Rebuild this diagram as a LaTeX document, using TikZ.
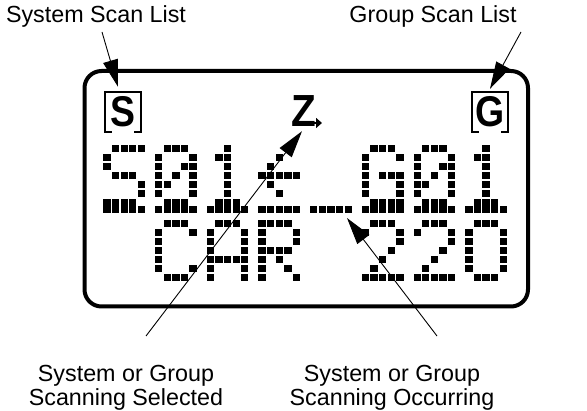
\documentclass[tikz,border=0pt]{standalone}
\usepackage{fontspec}
\setmainfont{Liberation Sans}
\usetikzlibrary{arrows.meta}

% dot patterns of the display, one list of lit columns per row
\def\glyphS{{2,3,4,5},{1},{1},{2,3,4},{5},{5},{1,2,3,4}}
\def\glyphZero{{2,3,4},{1,5},{1,4,5},{1,3,5},{1,2,5},{1,5},{2,3,4}}
\def\glyphOne{{3},{2,3},{3},{3},{3},{3},{2,3,4}}
\def\glyphLeft{{0},{3},{2},{1,2,3,4,5},{2},{3},{0}}
\def\glyphG{{2,3,4},{1,5},{1},{1,3,4,5},{1,5},{1,5},{2,3,4,5}}
\def\glyphC{{2,3,4},{1,5},{1},{1},{1},{1,5},{2,3,4}}
\def\glyphA{{2,3,4},{1,5},{1,5},{1,5},{1,2,3,4,5},{1,5},{1,5}}
\def\glyphR{{1,2,3,4},{1,5},{1,5},{1,2,3,4},{1,3},{1,4},{1,5}}
\def\glyphTwo{{2,3,4},{1,5},{5},{4},{3},{2},{1,2,3,4,5}}
\def\glyphO{{2,3,4},{1,5},{1,5},{1,5},{1,5},{1,5},{2,3,4}}

\newcommand{\lcdglyph}[3]{%
  \foreach \cols [count=\rw] in #3 {
    \foreach \cl in \cols {
      \ifnum\cl>0
        \fill[lcddot] ({#1+(\cl-1)*8.62},{#2+(\rw-1)*9}) rectangle ++(7.3,7.2);
      \fi
    }
  }%
}

\tikzset{
  lcddot/.style={fill=black},
  lcdframe/.style={draw, line width=4pt, rounded corners=17pt},
  leader/.style={line width=0.9pt, -{Triangle[length=27pt,width=15pt]}},
  lbltext/.style={font=\fontsize{23.3}{24}\selectfont, inner sep=0pt, align=center},
  indbox/.style={inner sep=0pt, minimum width=36pt, minimum height=40pt,
    font=\fontsize{43}{43}\bfseries\selectfont},
  indline/.style={line width=1.6pt},
}

\begin{document}
\begin{tikzpicture}[x=1pt,y=-1pt]
  \useasboundingbox (0,0) rectangle (587,411);

  % Draw display frame
  \node[lcdframe, minimum width=443.5pt, minimum height=235.5pt] (lcd) at (306.25,188.75) {};

  % Draw scan list indicators
  \node[indbox] (sbox) at (123,112) {\scalebox{0.87}[1]{S}};
  \node[indbox] (gbox) at (490,112) {\scalebox{0.87}[1]{G}};
  \draw[indline] ([xshift=7pt]sbox.south west) -- (sbox.south west) -- (sbox.north west)
    -- (sbox.north east) -- (sbox.south east) -- ([xshift=-7pt]sbox.south east);
  \draw[indline] ([xshift=7pt]gbox.south west) -- (gbox.south west) -- (gbox.north west)
    -- (gbox.north east) -- (gbox.south east) -- ([xshift=-7pt]gbox.south east);
  \node[inner sep=0pt, font=\fontsize{45}{45}\bfseries\selectfont] (zind) at (304,111.5) {\scalebox{0.9}[1]{Z}};
  \draw[line width=2.6pt, -{Triangle[length=6pt,width=10pt]}] (311,123) -- (322,123);

  % First line: S01< G01 with cursor row
  \lcdglyph{103.3}{145}{\glyphS}
  \lcdglyph{155}{145}{\glyphZero}
  \lcdglyph{206.7}{145}{\glyphOne}
  \lcdglyph{258.4}{145}{\glyphLeft}
  \lcdglyph{361.8}{145}{\glyphG}
  \lcdglyph{413.5}{145}{\glyphZero}
  \lcdglyph{465.2}{145}{\glyphOne}
  \foreach \i in {0,...,7}
    \foreach \cl in {0,...,4}
      \fill[lcddot] ({103.3+\i*51.7+\cl*8.62},206) rectangle ++(7.3,7.4);

  % Second line: CAR 220
  \lcdglyph{155}{220}{\glyphC}
  \lcdglyph{206.7}{220}{\glyphA}
  \lcdglyph{258.4}{220}{\glyphR}
  \lcdglyph{361.8}{220}{\glyphTwo}
  \lcdglyph{413.5}{220}{\glyphTwo}
  \lcdglyph{465.2}{220}{\glyphO}

  % Labels
  \node[lbltext, anchor=base] (syslbl) at (96,23) {System Scan List};
  \node[lbltext, anchor=base] (grplbl) at (433,23) {Group Scan List};
  \node[lbltext, anchor=north] (sellbl) at (126,365) {System or Group\\Scanning Selected};
  \node[lbltext, anchor=north] (occlbl) at (392,365) {System or Group\\Scanning Occurring};

  \coordinate (sysfoot) at (102,32);
  \coordinate (grpfoot) at (521,32);
  \coordinate (selfoot) at (146,336);
  \coordinate (occfoot) at (437,336);
  \coordinate (cursor) at (347,218);

  % Connect labels with arrows
  \draw[leader] (sysfoot) -- ([shift={(-5,-5)}]sbox.north);
  \draw[leader] (grpfoot) -- ([shift={(0,-3)}]gbox.north);
  \draw[leader] (selfoot) -- ([shift={(-2,4)}]zind.south);
  \draw[leader] (occfoot) -- (cursor);
\end{tikzpicture}
\end{document}
